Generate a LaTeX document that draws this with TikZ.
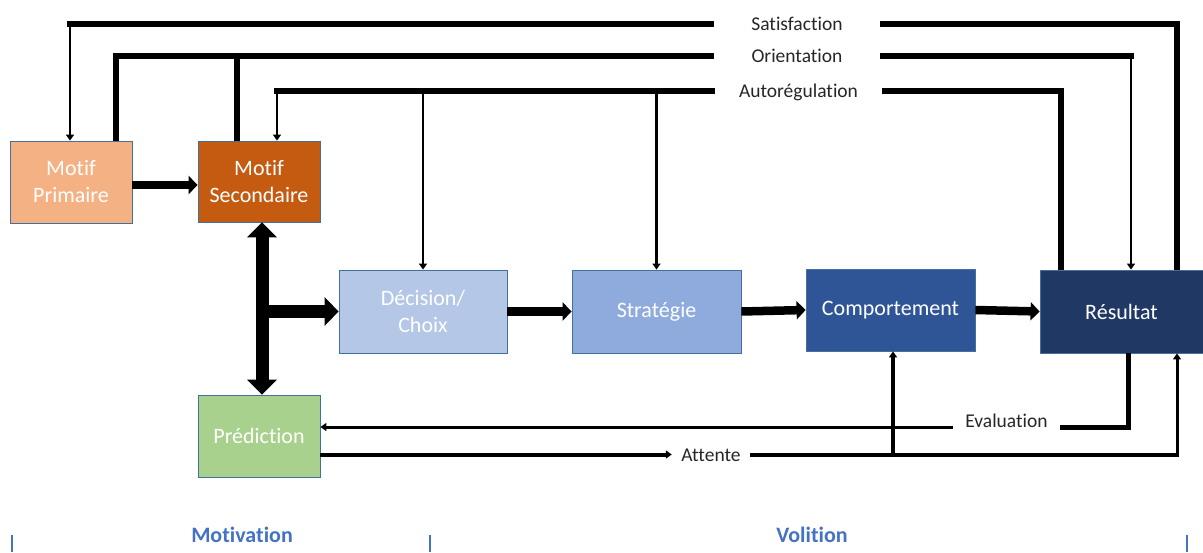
\documentclass[tikz,border=0pt]{standalone}
\usepackage{fontspec}
\setmainfont{Carlito}[Ligatures=NoCommon]
\usetikzlibrary{arrows.meta}
\definecolor{primcol}{HTML}{F4B183}
\definecolor{seccol}{HTML}{C55A11}
\definecolor{deccol}{HTML}{B4C7E7}
\definecolor{stracol}{HTML}{8FAADC}
\definecolor{compcol}{HTML}{2F5597}
\definecolor{rescol}{HTML}{203864}
\definecolor{predcol}{HTML}{A9D18E}
\definecolor{boxline}{HTML}{41719C}
\definecolor{phase}{HTML}{4472C4}
\begin{document}
\begin{tikzpicture}[x=1pt,y=-1pt,
  box/.style={draw=boxline,line width=0.8pt,text=white,align=center,inner sep=0pt,
    font=\fontsize{22}{27}\selectfont},
  tag/.style={text=black!85,inner sep=0pt,text height=15pt,text depth=2pt,
    font=\fontsize{19.5}{22}\selectfont},
  fbline/.style={line width=6pt},
  fbarrow/.style={line width=2.5pt,-{Triangle[length=6pt,width=8pt]}},
  flow/.style={line width=8.5pt,-{Triangle[length=9pt,width=18pt]}},
  bigflow/.style={line width=13pt},
  tick/.style={draw=phase,line width=2pt}]
\useasboundingbox (0,0) rectangle (1203,552);
% boxes
\node[box,fill=primcol,minimum width=122pt,minimum height=82pt] (pri) at (71,182) {Motif\\Primaire};
\node[box,fill=seccol,minimum width=122pt,minimum height=81pt] (sec) at (259,181.5) {Motif\\Secondaire};
\node[box,fill=deccol,minimum width=168pt,minimum height=83pt] (dec) at (423,311.5) {Décision/\\Choix};
\node[box,fill=stracol,minimum width=169pt,minimum height=83pt] (stra) at (656.5,311.5) {Stratégie};
\node[box,fill=compcol,minimum width=169pt,minimum height=82pt] (comp) at (890.5,310) {Comportement};
\node[box,fill=rescol,minimum width=163pt,minimum height=83pt] (res) at (1121.5,311.5) {Résultat};
\node[box,fill=predcol,minimum width=122pt,minimum height=82pt] (pred) at (259,436) {Prédiction};
% labels on the feedback lines
\node[tag,minimum width=166pt] (sat) at (797,23.5) {Satisfaction};
\node[tag,minimum width=166pt] (ori) at (797,55.5) {Orientation};
\node[tag,minimum width=167pt] (aut) at (798.5,91) {Autorégulation};
\node[tag,minimum width=107pt] (eva) at (1006.5,420.5) {Evaluation};
\node[tag,minimum width=78pt] (att) at (711,454.5) {Attente};
% main flow
\draw[flow] ([yshift=-3pt]pri.east) -- ([yshift=-3pt]pri.east -| sec.west);
\draw[flow] (dec.east) -- (stra.west);
\draw[flow] (stra.east) -- (comp.west);
\draw[flow] (comp.east) -- (res.west);
\draw[bigflow,{Triangle[length=15pt,width=29pt]}-{Triangle[length=15pt,width=29pt]}]
  ([xshift=3pt]sec.south) -- ([xshift=3pt]pred.north);
\draw[bigflow,-{Triangle[length=14pt,width=28pt]}] ([xshift=3pt]sec.south |- dec.west) -- (dec.west);
% Satisfaction
\draw[fbline] (sat.west) -- (sat.west -| 67,0);
\draw[fbarrow] (70,21) -- ([xshift=-1pt]pri.north);
\draw[fbline] (sat.east) -| ([xshift=55.5pt]res.north);
% Orientation
\draw[fbline] (ori.west) -| ([xshift=45pt]pri.north);
\draw[fbline] (ori.west -| 237,0) -- ([xshift=-22pt]sec.north);
\draw[fbline] (ori.east) -- (ori.east -| 1134,0);
\draw[fbarrow] (1131,52.5) -- ([xshift=9.5pt]res.north);
% Autoregulation
\draw[fbline] (aut.west) -- (aut.west -| 274,0);
\draw[fbarrow] (277,88) -- ([xshift=18pt]sec.north);
\draw[fbarrow] (aut.west -| dec.north) -- (dec.north);
\draw[fbarrow] (aut.west -| stra.north) -- (stra.north);
\draw[fbline] (aut.east) -| ([xshift=-60.5pt]res.north);
% Evaluation
\draw[line width=5pt] ([xshift=6.5pt]res.south) |- ([yshift=-6.5pt]eva.east);
\draw[line width=3pt,-{Triangle[length=6pt,width=8pt]}] ([yshift=-6.5pt]eva.west) -- ([yshift=9pt]pred.east);
% Attente
\draw[line width=4pt,-{Triangle[length=6pt,width=8pt]}] ([yshift=-18.5pt]pred.east) -- (att.west);
\draw[line width=4pt] (att.east) -- (1179,454.5);
\draw[line width=3pt,-{Triangle[length=6pt,width=8pt]}] (1177,456.5) -- ([xshift=55.5pt]res.south);
\draw[line width=4pt,-{Triangle[length=6pt,width=8pt]}] (att.east -| 893,0) -- ([xshift=2.5pt]comp.south);
% phases
\node[text=phase,font=\bfseries\fontsize{22}{26}\selectfont,inner sep=0pt] (mot) at (242,535) {Motivation};
\node[text=phase,font=\bfseries\fontsize{22}{26}\selectfont,inner sep=0pt] (vol) at (812,535) {Volition};
\draw[tick] (12,535) -- (12,552);
\draw[tick] (430,535) -- (430,552);
\draw[tick] (1187,535) -- (1187,552);
\end{tikzpicture}
\end{document}
